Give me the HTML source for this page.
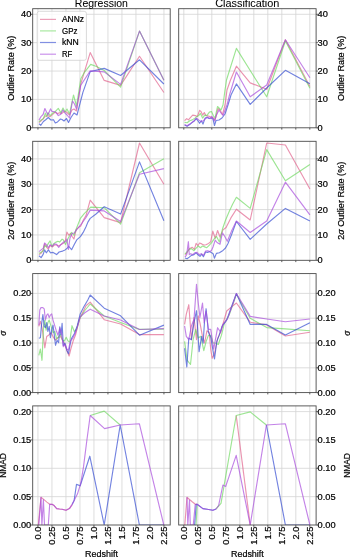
<!DOCTYPE html><html><head><meta charset="utf-8"><style>html,body{margin:0;padding:0;background:#fff;}svg{display:block;filter:blur(0.3px);}text{font-family:"Liberation Sans",sans-serif;fill:#000;stroke:#000;stroke-width:0.2px;}text.t{stroke-width:0.06px;}</style></head><body>
<svg width="350" height="557" viewBox="0 0 350 557">
<rect width="350" height="557" fill="#fff"/>
<path d="M37.95 8.70V127.80M51.95 8.70V127.80M65.95 8.70V127.80M79.95 8.70V127.80M93.95 8.70V127.80M107.95 8.70V127.80M121.95 8.70V127.80M135.95 8.70V127.80M149.95 8.70V127.80M163.95 8.70V127.80M32.70 99.42H170.20M32.70 71.05H170.20M32.70 42.67H170.20M32.70 14.30H170.20" stroke="#d4d4d4" stroke-width="0.8" fill="none"/>
<clipPath id="c00"><rect x="32.70" y="8.70" width="137.50" height="119.10"/></clipPath>
<g fill="none" stroke-width="1.15" stroke-linejoin="round" stroke-linecap="butt" clip-path="url(#c00)">
<polyline points="39.0,122.6 41.1,120.9 43.3,118.7 45.4,116.1 48.0,115.7 50.1,116.6 52.7,114.4 54.9,112.3 57.4,113.6 59.6,112.7 61.7,113.6 64.3,111.4 66.5,112.0 69.5,115.0 72.0,110.0 74.0,109.0 76.5,111.0 80.8,83.8 90.2,52.6 104.2,80.4 120.6,85.4 139.5,56.3 163.9,92.5" stroke="#e0608a" stroke-opacity="0.68"/>
<polyline points="39.0,121.7 41.1,120.0 43.3,118.7 45.4,113.1 46.7,116.6 48.0,112.7 50.1,115.7 52.7,113.1 54.9,111.9 58.3,108.4 60.9,112.7 63.0,108.0 65.0,112.0 67.0,109.0 69.5,114.0 73.5,95.0 76.5,106.0 80.8,78.8 84.4,72.3 90.7,64.4 96.5,66.5 104.2,70.5 120.6,87.1 139.5,31.1 163.9,80.2" stroke="#6fd860" stroke-opacity="0.68"/>
<polyline points="39.0,123.8 40.8,125.3 43.4,121.5 45.7,119.7 48.3,117.5 50.9,120.0 53.5,119.7 55.3,123.0 57.5,121.9 60.5,119.0 62.0,119.5 64.0,121.0 66.5,118.5 68.5,122.5 71.0,117.5 74.0,113.0 77.0,115.0 82.9,92.4 90.2,71.6 104.2,68.4 120.6,75.5 139.5,59.8 163.9,84.0" stroke="#3048d2" stroke-opacity="0.68"/>
<polyline points="39.0,120.1 41.2,116.3 43.1,114.5 44.9,108.5 47.9,114.9 50.5,108.9 52.0,111.5 53.8,111.5 56.0,112.3 58.3,115.6 60.5,114.5 63.0,110.0 65.0,113.0 67.0,115.0 69.5,118.0 72.5,101.0 74.5,104.0 76.5,109.0 80.8,85.2 90.2,70.9 104.2,71.9 120.6,84.4 139.5,31.1 163.9,80.2" stroke="#a648dc" stroke-opacity="0.68"/>
</g>
<path d="M37.95 127.80v1.8M51.95 127.80v1.8M65.95 127.80v1.8M79.95 127.80v1.8M93.95 127.80v1.8M107.95 127.80v1.8M121.95 127.80v1.8M135.95 127.80v1.8M149.95 127.80v1.8M163.95 127.80v1.8M32.70 127.80h-1.8M32.70 99.42h-1.8M32.70 71.05h-1.8M32.70 42.67h-1.8M32.70 14.30h-1.8" stroke="#4a4a4a" stroke-width="0.9" fill="none"/>
<rect x="32.70" y="8.70" width="137.50" height="119.10" fill="none" stroke="#4a4a4a" stroke-width="0.9"/>
<text x="31.30" y="130.76" font-size="8.38" text-anchor="end" textLength="5.15" lengthAdjust="spacingAndGlyphs">0</text>
<text x="31.30" y="102.38" font-size="8.38" text-anchor="end" textLength="10.31" lengthAdjust="spacingAndGlyphs">10</text>
<text x="31.30" y="74.01" font-size="8.38" text-anchor="end" textLength="10.31" lengthAdjust="spacingAndGlyphs">20</text>
<text x="31.30" y="45.63" font-size="8.38" text-anchor="end" textLength="10.31" lengthAdjust="spacingAndGlyphs">30</text>
<text x="31.30" y="17.26" font-size="8.38" text-anchor="end" textLength="10.31" lengthAdjust="spacingAndGlyphs">40</text>
<path d="M183.80 8.70V127.80M197.80 8.70V127.80M211.80 8.70V127.80M225.80 8.70V127.80M239.80 8.70V127.80M253.80 8.70V127.80M267.80 8.70V127.80M281.80 8.70V127.80M295.80 8.70V127.80M309.80 8.70V127.80M178.70 99.42H316.10M178.70 71.05H316.10M178.70 42.67H316.10M178.70 14.30H316.10" stroke="#d4d4d4" stroke-width="0.8" fill="none"/>
<clipPath id="c01"><rect x="178.70" y="8.70" width="137.40" height="119.10"/></clipPath>
<g fill="none" stroke-width="1.15" stroke-linejoin="round" stroke-linecap="butt" clip-path="url(#c01)">
<polyline points="184.6,120.7 186.7,118.6 188.4,119.9 190.6,117.3 192.7,115.1 195.3,115.6 197.4,116.5 199.6,110.4 201.0,111.5 202.6,115.1 204.3,112.6 206.0,115.6 208.5,116.0 211.0,117.0 213.5,118.0 215.0,120.0 218.0,108.5 220.0,110.0 222.5,114.5 225.0,105.0 227.0,90.0 230.5,80.0 236.4,66.2 250.2,82.9 266.7,89.3 285.4,39.8 309.9,86.6" stroke="#e0608a" stroke-opacity="0.68"/>
<polyline points="184.6,122.4 187.1,122.8 189.7,120.7 192.3,119.9 194.9,118.1 197.0,116.4 198.7,115.6 200.4,113.4 202.6,118.1 204.7,115.1 206.8,115.6 209.4,112.1 211.5,111.5 213.5,116.0 215.0,118.0 217.5,106.5 219.5,108.5 221.0,110.0 223.0,105.0 225.0,90.0 226.5,80.0 236.4,48.4 250.2,70.5 266.7,96.8 285.4,41.0 309.9,88.2" stroke="#6fd860" stroke-opacity="0.68"/>
<polyline points="184.6,125.0 187.1,126.3 189.7,124.6 192.3,122.4 194.4,120.7 196.1,118.6 197.9,120.7 199.6,123.3 201.3,120.7 203.0,124.1 205.1,118.1 207.0,117.5 209.0,118.5 211.0,118.0 213.0,119.0 214.5,125.5 216.0,120.5 219.0,120.0 222.0,118.0 225.0,114.0 228.0,105.0 231.0,95.0 236.4,83.9 250.2,104.4 266.7,88.0 285.4,70.3 309.9,83.8" stroke="#3048d2" stroke-opacity="0.68"/>
<polyline points="184.6,124.6 187.1,125.8 189.7,124.1 191.9,122.4 194.4,120.7 196.6,118.1 198.7,119.9 200.9,121.6 203.4,120.7 205.6,118.5 207.7,116.9 209.9,118.6 212.0,116.4 214.5,121.0 216.5,115.0 219.0,110.0 221.0,113.0 223.0,115.5 227.0,105.0 229.5,95.0 234.0,80.0 236.4,72.0 250.2,96.8 266.7,85.0 285.4,39.8 309.9,77.7" stroke="#a648dc" stroke-opacity="0.68"/>
</g>
<path d="M183.80 127.80v1.8M197.80 127.80v1.8M211.80 127.80v1.8M225.80 127.80v1.8M239.80 127.80v1.8M253.80 127.80v1.8M267.80 127.80v1.8M281.80 127.80v1.8M295.80 127.80v1.8M309.80 127.80v1.8M316.10 127.80h1.8M316.10 99.42h1.8M316.10 71.05h1.8M316.10 42.67h1.8M316.10 14.30h1.8" stroke="#4a4a4a" stroke-width="0.9" fill="none"/>
<rect x="178.70" y="8.70" width="137.40" height="119.10" fill="none" stroke="#4a4a4a" stroke-width="0.9"/>
<text x="317.50" y="130.76" font-size="8.38" text-anchor="start" textLength="5.15" lengthAdjust="spacingAndGlyphs">0</text>
<text x="317.50" y="102.38" font-size="8.38" text-anchor="start" textLength="10.31" lengthAdjust="spacingAndGlyphs">10</text>
<text x="317.50" y="74.01" font-size="8.38" text-anchor="start" textLength="10.31" lengthAdjust="spacingAndGlyphs">20</text>
<text x="317.50" y="45.63" font-size="8.38" text-anchor="start" textLength="10.31" lengthAdjust="spacingAndGlyphs">30</text>
<text x="317.50" y="17.26" font-size="8.38" text-anchor="start" textLength="10.31" lengthAdjust="spacingAndGlyphs">40</text>
<path d="M37.95 141.30V260.30M51.95 141.30V260.30M65.95 141.30V260.30M79.95 141.30V260.30M93.95 141.30V260.30M107.95 141.30V260.30M121.95 141.30V260.30M135.95 141.30V260.30M149.95 141.30V260.30M163.95 141.30V260.30M32.70 234.94H170.20M32.70 209.58H170.20M32.70 184.22H170.20M32.70 158.86H170.20" stroke="#d4d4d4" stroke-width="0.8" fill="none"/>
<clipPath id="c10"><rect x="32.70" y="141.30" width="137.50" height="119.00"/></clipPath>
<g fill="none" stroke-width="1.15" stroke-linejoin="round" stroke-linecap="butt" clip-path="url(#c10)">
<polyline points="39.0,254.6 41.1,253.3 43.3,249.9 44.6,243.9 46.7,247.3 48.4,249.0 50.1,245.6 52.3,247.0 54.4,245.0 56.6,245.0 58.7,246.0 61.0,244.6 63.6,243.3 65.5,240.0 66.9,232.0 68.8,235.2 70.6,233.4 72.0,236.2 73.9,239.0 76.2,229.6 78.6,227.3 80.9,225.9 83.2,220.3 86.0,215.6 90.2,200.2 104.2,217.6 120.6,222.6 139.5,143.0 163.9,184.3" stroke="#e0608a" stroke-opacity="0.68"/>
<polyline points="39.0,253.3 41.1,252.4 43.3,250.7 44.6,245.6 46.3,246.9 48.4,243.4 50.1,240.9 51.9,246.4 54.0,243.4 56.1,242.1 57.9,241.3 59.6,242.1 62.1,239.1 63.4,240.0 65.5,244.6 68.3,238.0 71.6,232.4 73.9,235.2 76.7,227.8 80.4,218.4 84.2,213.7 90.7,207.1 104.2,207.7 120.6,224.1 139.5,172.8 163.9,158.7" stroke="#6fd860" stroke-opacity="0.68"/>
<polyline points="39.0,255.8 41.1,257.6 43.3,254.1 44.6,249.9 46.3,252.8 48.4,249.9 50.6,252.8 53.1,252.4 56.6,254.6 59.1,252.0 62.6,251.1 65.1,249.9 66.9,248.5 68.7,246.4 71.6,249.7 74.0,245.0 76.7,239.9 80.4,236.6 83.2,232.4 86.0,226.8 87.9,222.1 90.2,218.4 95.7,214.3 104.2,206.7 120.6,214.1 139.5,161.9 163.9,220.8" stroke="#3048d2" stroke-opacity="0.68"/>
<polyline points="39.0,251.6 41.1,249.9 43.3,248.1 44.6,243.0 46.3,244.7 48.4,247.7 50.1,244.7 52.3,246.4 54.4,243.9 56.6,244.3 58.7,247.3 60.9,244.7 63.4,242.1 65.5,241.7 66.9,239.0 68.4,249.5 70.0,238.0 72.0,233.5 74.3,233.0 76.7,229.6 81.4,224.0 86.0,217.5 90.2,210.1 104.2,210.9 120.6,221.6 139.5,174.3 163.9,168.6" stroke="#a648dc" stroke-opacity="0.68"/>
</g>
<path d="M37.95 260.30v1.8M51.95 260.30v1.8M65.95 260.30v1.8M79.95 260.30v1.8M93.95 260.30v1.8M107.95 260.30v1.8M121.95 260.30v1.8M135.95 260.30v1.8M149.95 260.30v1.8M163.95 260.30v1.8M32.70 260.30h-1.8M32.70 234.94h-1.8M32.70 209.58h-1.8M32.70 184.22h-1.8M32.70 158.86h-1.8" stroke="#4a4a4a" stroke-width="0.9" fill="none"/>
<rect x="32.70" y="141.30" width="137.50" height="119.00" fill="none" stroke="#4a4a4a" stroke-width="0.9"/>
<text x="31.30" y="263.26" font-size="8.38" text-anchor="end" textLength="5.15" lengthAdjust="spacingAndGlyphs">0</text>
<text x="31.30" y="237.90" font-size="8.38" text-anchor="end" textLength="10.31" lengthAdjust="spacingAndGlyphs">10</text>
<text x="31.30" y="212.54" font-size="8.38" text-anchor="end" textLength="10.31" lengthAdjust="spacingAndGlyphs">20</text>
<text x="31.30" y="187.18" font-size="8.38" text-anchor="end" textLength="10.31" lengthAdjust="spacingAndGlyphs">30</text>
<text x="31.30" y="161.82" font-size="8.38" text-anchor="end" textLength="10.31" lengthAdjust="spacingAndGlyphs">40</text>
<path d="M183.80 141.30V260.30M197.80 141.30V260.30M211.80 141.30V260.30M225.80 141.30V260.30M239.80 141.30V260.30M253.80 141.30V260.30M267.80 141.30V260.30M281.80 141.30V260.30M295.80 141.30V260.30M309.80 141.30V260.30M178.70 234.94H316.10M178.70 209.58H316.10M178.70 184.22H316.10M178.70 158.86H316.10" stroke="#d4d4d4" stroke-width="0.8" fill="none"/>
<clipPath id="c11"><rect x="178.70" y="141.30" width="137.40" height="119.00"/></clipPath>
<g fill="none" stroke-width="1.15" stroke-linejoin="round" stroke-linecap="butt" clip-path="url(#c11)">
<polyline points="185.0,254.6 187.1,252.8 189.3,248.6 190.6,248.1 192.3,247.3 194.4,249.4 196.1,243.4 197.9,245.6 199.6,243.0 201.7,243.9 203.8,245.1 205.9,244.7 208.6,243.4 210.7,241.7 212.8,231.1 215.2,238.3 217.6,230.5 220.0,237.0 223.0,229.9 226.1,227.5 230.9,217.9 236.4,209.2 250.2,220.0 266.7,143.0 285.4,145.0 309.9,189.0" stroke="#e0608a" stroke-opacity="0.68"/>
<polyline points="185.0,254.1 187.1,251.6 189.3,249.4 191.4,248.6 194.0,250.7 196.6,247.7 198.3,246.0 200.4,247.7 202.6,246.0 204.7,246.9 206.8,247.7 209.4,245.1 211.6,242.6 214.6,238.3 216.5,236.5 219.4,241.9 222.4,229.3 225.5,220.3 229.1,211.8 232.7,204.0 236.4,197.3 250.2,208.4 266.7,149.6 285.4,180.7 309.9,164.4" stroke="#6fd860" stroke-opacity="0.68"/>
<polyline points="185.0,258.0 187.1,258.8 189.3,257.1 191.4,255.4 194.0,254.6 196.1,252.8 198.3,255.0 200.0,256.3 201.7,254.1 203.4,256.7 205.6,252.0 207.7,252.4 209.4,251.6 211.6,252.8 213.2,253.8 214.4,258.2 216.4,253.4 219.4,252.8 223.0,250.4 225.5,248.0 227.9,243.7 231.5,234.7 236.4,221.5 250.2,239.3 266.7,224.0 285.4,208.4 309.9,221.0" stroke="#3048d2" stroke-opacity="0.68"/>
<polyline points="185.0,257.1 186.7,254.6 188.4,241.7 189.3,254.6 190.6,253.7 192.7,254.6 194.9,252.8 197.0,252.4 199.1,254.6 201.3,253.7 203.4,255.4 205.6,251.1 207.7,250.7 209.9,251.6 211.6,250.3 213.0,247.0 215.2,240.1 217.0,242.5 220.0,244.3 222.4,232.9 224.8,236.5 227.3,241.3 231.5,231.1 236.4,221.0 250.2,232.5 266.7,221.0 285.4,182.2 309.9,214.9" stroke="#a648dc" stroke-opacity="0.68"/>
</g>
<path d="M183.80 260.30v1.8M197.80 260.30v1.8M211.80 260.30v1.8M225.80 260.30v1.8M239.80 260.30v1.8M253.80 260.30v1.8M267.80 260.30v1.8M281.80 260.30v1.8M295.80 260.30v1.8M309.80 260.30v1.8M316.10 260.30h1.8M316.10 234.94h1.8M316.10 209.58h1.8M316.10 184.22h1.8M316.10 158.86h1.8" stroke="#4a4a4a" stroke-width="0.9" fill="none"/>
<rect x="178.70" y="141.30" width="137.40" height="119.00" fill="none" stroke="#4a4a4a" stroke-width="0.9"/>
<text x="317.50" y="263.26" font-size="8.38" text-anchor="start" textLength="5.15" lengthAdjust="spacingAndGlyphs">0</text>
<text x="317.50" y="237.90" font-size="8.38" text-anchor="start" textLength="10.31" lengthAdjust="spacingAndGlyphs">10</text>
<text x="317.50" y="212.54" font-size="8.38" text-anchor="start" textLength="10.31" lengthAdjust="spacingAndGlyphs">20</text>
<text x="317.50" y="187.18" font-size="8.38" text-anchor="start" textLength="10.31" lengthAdjust="spacingAndGlyphs">30</text>
<text x="317.50" y="161.82" font-size="8.38" text-anchor="start" textLength="10.31" lengthAdjust="spacingAndGlyphs">40</text>
<path d="M37.95 273.60V392.60M51.95 273.60V392.60M65.95 273.60V392.60M79.95 273.60V392.60M93.95 273.60V392.60M107.95 273.60V392.60M121.95 273.60V392.60M135.95 273.60V392.60M149.95 273.60V392.60M163.95 273.60V392.60M32.70 367.80H170.20M32.70 343.00H170.20M32.70 318.20H170.20M32.70 293.40H170.20" stroke="#d4d4d4" stroke-width="0.8" fill="none"/>
<clipPath id="c20"><rect x="32.70" y="273.60" width="137.50" height="119.00"/></clipPath>
<g fill="none" stroke-width="1.15" stroke-linejoin="round" stroke-linecap="butt" clip-path="url(#c20)">
<polyline points="38.8,326.4 40.4,321.4 42.0,327.7 43.5,337.7 44.8,347.8 46.7,336.5 48.6,335.2 51.1,332.7 53.6,337.7 55.5,340.2 58.0,337.7 60.5,336.5 62.5,340.0 64.4,343.5 66.8,350.2 69.1,356.0 70.8,349.0 73.2,340.8 75.5,335.0 78.4,323.3 80.2,317.5 86.0,305.8 90.2,302.1 104.2,319.7 120.6,324.0 139.5,334.6 163.9,334.6" stroke="#e0608a" stroke-opacity="0.68"/>
<polyline points="38.8,355.3 40.4,349.0 42.0,360.3 43.5,327.7 44.8,320.1 46.1,330.2 47.9,322.6 49.2,320.1 51.1,326.4 53.0,332.7 54.8,331.4 56.7,339.0 58.6,336.5 60.5,334.0 62.5,340.0 64.4,341.0 66.2,337.3 68.0,341.0 69.7,342.0 72.0,325.7 74.3,331.5 76.7,329.2 79.6,318.7 84.8,310.5 90.2,304.0 104.2,316.0 120.6,322.5 139.5,329.4 163.9,329.1" stroke="#6fd860" stroke-opacity="0.68"/>
<polyline points="38.8,338.3 40.4,337.7 41.6,323.9 42.9,314.5 44.2,326.4 45.4,327.7 46.7,322.6 47.9,331.4 49.2,326.4 50.4,337.7 51.7,330.2 53.0,325.2 54.2,334.0 55.5,345.3 57.1,340.2 58.6,342.7 59.8,326.8 61.0,335.0 62.1,323.3 63.3,345.5 65.0,343.2 66.8,350.2 68.5,353.7 69.7,346.7 71.4,338.5 74.3,333.8 77.3,325.7 80.2,314.0 83.7,307.0 87.8,300.0 90.2,295.0 104.2,308.2 120.6,315.8 139.5,335.2 163.9,325.1" stroke="#3048d2" stroke-opacity="0.68"/>
<polyline points="38.8,325.2 39.8,310.1 41.0,307.6 42.9,307.6 44.2,308.8 45.4,320.0 46.7,315.1 47.9,313.8 49.2,317.6 50.4,315.1 51.7,313.8 53.0,320.1 54.2,323.9 56.1,330.2 58.0,335.2 59.8,328.0 61.5,333.5 63.3,346.7 65.0,344.3 66.8,349.0 68.5,350.2 70.3,340.8 72.6,338.5 75.5,332.7 78.4,323.3 80.2,316.9 84.8,312.8 90.2,309.2 104.2,316.0 120.6,320.0 139.5,329.5 163.9,328.6" stroke="#a648dc" stroke-opacity="0.68"/>
</g>
<path d="M37.95 392.60v1.8M51.95 392.60v1.8M65.95 392.60v1.8M79.95 392.60v1.8M93.95 392.60v1.8M107.95 392.60v1.8M121.95 392.60v1.8M135.95 392.60v1.8M149.95 392.60v1.8M163.95 392.60v1.8M32.70 392.60h-1.8M32.70 367.80h-1.8M32.70 343.00h-1.8M32.70 318.20h-1.8M32.70 293.40h-1.8" stroke="#4a4a4a" stroke-width="0.9" fill="none"/>
<rect x="32.70" y="273.60" width="137.50" height="119.00" fill="none" stroke="#4a4a4a" stroke-width="0.9"/>
<text x="31.30" y="395.56" font-size="8.38" text-anchor="end" textLength="18.04" lengthAdjust="spacingAndGlyphs">0.00</text>
<text x="31.30" y="370.76" font-size="8.38" text-anchor="end" textLength="18.04" lengthAdjust="spacingAndGlyphs">0.05</text>
<text x="31.30" y="345.96" font-size="8.38" text-anchor="end" textLength="18.04" lengthAdjust="spacingAndGlyphs">0.10</text>
<text x="31.30" y="321.16" font-size="8.38" text-anchor="end" textLength="18.04" lengthAdjust="spacingAndGlyphs">0.15</text>
<text x="31.30" y="296.36" font-size="8.38" text-anchor="end" textLength="18.04" lengthAdjust="spacingAndGlyphs">0.20</text>
<path d="M183.80 273.60V392.60M197.80 273.60V392.60M211.80 273.60V392.60M225.80 273.60V392.60M239.80 273.60V392.60M253.80 273.60V392.60M267.80 273.60V392.60M281.80 273.60V392.60M295.80 273.60V392.60M309.80 273.60V392.60M178.70 367.80H316.10M178.70 343.00H316.10M178.70 318.20H316.10M178.70 293.40H316.10" stroke="#d4d4d4" stroke-width="0.8" fill="none"/>
<clipPath id="c21"><rect x="178.70" y="273.60" width="137.40" height="119.00"/></clipPath>
<g fill="none" stroke-width="1.15" stroke-linejoin="round" stroke-linecap="butt" clip-path="url(#c21)">
<polyline points="184.6,324.4 186.3,314.1 188.8,304.7 191.4,339.7 194.0,317.5 196.5,339.7 198.2,315.8 200.0,323.2 202.3,335.4 204.6,343.0 206.9,330.8 209.2,332.3 210.7,349.1 212.2,358.3 214.5,353.7 217.6,338.5 220.6,332.3 226.7,311.0 231.3,307.1 236.4,303.0 250.2,322.2 266.7,324.9 285.4,336.0 309.9,332.3" stroke="#e0608a" stroke-opacity="0.68"/>
<polyline points="184.6,341.4 187.1,360.2 190.5,364.5 193.1,339.7 195.7,329.5 198.2,338.0 200.8,336.3 203.8,350.6 206.1,341.5 208.4,335.4 210.7,335.4 213.0,343.0 215.3,343.0 218.3,344.5 221.4,335.4 224.4,323.2 229.0,315.5 236.4,294.3 250.2,318.2 266.7,327.6 285.4,328.9 309.9,330.7" stroke="#6fd860" stroke-opacity="0.68"/>
<polyline points="184.6,348.3 186.8,367.0 188.8,338.0 191.4,339.7 194.0,322.7 196.5,310.7 199.1,351.7 201.6,336.3 203.1,343.1 204.5,322.0 206.1,308.7 208.4,332.3 210.7,336.9 212.2,346.0 214.5,359.0 216.8,341.5 219.1,335.4 222.1,326.2 226.7,320.1 231.3,307.1 236.4,293.5 250.2,324.4 266.7,324.4 285.4,335.0 309.9,322.8" stroke="#3048d2" stroke-opacity="0.68"/>
<polyline points="184.6,326.0 186.3,336.3 188.8,339.7 191.4,326.0 194.0,319.2 196.5,284.3 198.2,302.2 199.9,317.5 202.5,303.0 204.2,322.7 206.1,311.0 208.4,329.3 210.7,329.3 213.7,349.1 217.6,327.7 220.6,332.3 222.9,324.7 227.5,318.6 232.1,306.4 236.4,293.5 250.2,316.4 266.7,319.0 285.4,321.7 309.9,319.0" stroke="#a648dc" stroke-opacity="0.68"/>
</g>
<path d="M183.80 392.60v1.8M197.80 392.60v1.8M211.80 392.60v1.8M225.80 392.60v1.8M239.80 392.60v1.8M253.80 392.60v1.8M267.80 392.60v1.8M281.80 392.60v1.8M295.80 392.60v1.8M309.80 392.60v1.8M316.10 392.60h1.8M316.10 367.80h1.8M316.10 343.00h1.8M316.10 318.20h1.8M316.10 293.40h1.8" stroke="#4a4a4a" stroke-width="0.9" fill="none"/>
<rect x="178.70" y="273.60" width="137.40" height="119.00" fill="none" stroke="#4a4a4a" stroke-width="0.9"/>
<text x="317.50" y="395.56" font-size="8.38" text-anchor="start" textLength="18.04" lengthAdjust="spacingAndGlyphs">0.00</text>
<text x="317.50" y="370.76" font-size="8.38" text-anchor="start" textLength="18.04" lengthAdjust="spacingAndGlyphs">0.05</text>
<text x="317.50" y="345.96" font-size="8.38" text-anchor="start" textLength="18.04" lengthAdjust="spacingAndGlyphs">0.10</text>
<text x="317.50" y="321.16" font-size="8.38" text-anchor="start" textLength="18.04" lengthAdjust="spacingAndGlyphs">0.15</text>
<text x="317.50" y="296.36" font-size="8.38" text-anchor="start" textLength="18.04" lengthAdjust="spacingAndGlyphs">0.20</text>
<path d="M37.95 405.90V525.00M51.95 405.90V525.00M65.95 405.90V525.00M79.95 405.90V525.00M93.95 405.90V525.00M107.95 405.90V525.00M121.95 405.90V525.00M135.95 405.90V525.00M149.95 405.90V525.00M163.95 405.90V525.00M32.70 496.65H170.20M32.70 468.30H170.20M32.70 439.95H170.20M32.70 411.60H170.20" stroke="#d4d4d4" stroke-width="0.8" fill="none"/>
<clipPath id="c30"><rect x="32.70" y="405.90" width="137.50" height="119.10"/></clipPath>
<g fill="none" stroke-width="1.15" stroke-linejoin="round" stroke-linecap="butt" clip-path="url(#c30)">
<polyline points="38.3,525.0 41.0,497.3 43.4,499.1 46.9,502.1 49.7,504.3 52.0,504.3 54.1,505.6 56.7,508.6 59.5,509.0 62.0,509.3 66.0,510.3 69.4,508.6 72.1,504.6" stroke="#e0608a" stroke-opacity="0.68"/>
<polyline points="90.2,415.5 104.2,411.1 120.2,425.0" stroke="#6fd860" stroke-opacity="0.68"/>
<polyline points="72.1,504.6 74.1,500.6 76.5,484.4 80.2,485.8 89.8,456.2 104.2,525.0 120.2,425.0 139.4,525.0 163.8,525.0" stroke="#3048d2" stroke-opacity="0.68"/>
<polyline points="38.8,525.0 41.0,497.3 41.9,525.0 43.4,499.5 44.5,525.0 48.3,525.0 49.7,504.3 52.0,504.3 54.1,505.6 56.7,508.6 59.5,509.0 62.0,509.3 66.0,510.3 69.4,508.6 72.1,504.6 74.8,499.2 77.5,493.8 80.8,483.1 83.5,466.9 86.9,440.0 90.2,415.5 104.6,428.6 120.2,425.0 139.4,423.8 163.8,525.0" stroke="#a648dc" stroke-opacity="0.68"/>
</g>
<path d="M37.95 525.00v1.8M51.95 525.00v1.8M65.95 525.00v1.8M79.95 525.00v1.8M93.95 525.00v1.8M107.95 525.00v1.8M121.95 525.00v1.8M135.95 525.00v1.8M149.95 525.00v1.8M163.95 525.00v1.8M32.70 525.00h-1.8M32.70 496.65h-1.8M32.70 468.30h-1.8M32.70 439.95h-1.8M32.70 411.60h-1.8" stroke="#4a4a4a" stroke-width="0.9" fill="none"/>
<rect x="32.70" y="405.90" width="137.50" height="119.10" fill="none" stroke="#4a4a4a" stroke-width="0.9"/>
<text x="31.30" y="527.96" font-size="8.38" text-anchor="end" textLength="18.04" lengthAdjust="spacingAndGlyphs">0.00</text>
<text x="31.30" y="499.61" font-size="8.38" text-anchor="end" textLength="18.04" lengthAdjust="spacingAndGlyphs">0.05</text>
<text x="31.30" y="471.26" font-size="8.38" text-anchor="end" textLength="18.04" lengthAdjust="spacingAndGlyphs">0.10</text>
<text x="31.30" y="442.91" font-size="8.38" text-anchor="end" textLength="18.04" lengthAdjust="spacingAndGlyphs">0.15</text>
<text x="31.30" y="414.56" font-size="8.38" text-anchor="end" textLength="18.04" lengthAdjust="spacingAndGlyphs">0.20</text>
<text x="40.91" y="526.60" font-size="8.38" text-anchor="end" textLength="12.88" lengthAdjust="spacingAndGlyphs" transform="rotate(-90 40.91 526.60)">0.0</text>
<text x="54.91" y="526.60" font-size="8.38" text-anchor="end" textLength="18.04" lengthAdjust="spacingAndGlyphs" transform="rotate(-90 54.91 526.60)">0.25</text>
<text x="68.91" y="526.60" font-size="8.38" text-anchor="end" textLength="12.88" lengthAdjust="spacingAndGlyphs" transform="rotate(-90 68.91 526.60)">0.5</text>
<text x="82.91" y="526.60" font-size="8.38" text-anchor="end" textLength="18.04" lengthAdjust="spacingAndGlyphs" transform="rotate(-90 82.91 526.60)">0.75</text>
<text x="96.91" y="526.60" font-size="8.38" text-anchor="end" textLength="12.88" lengthAdjust="spacingAndGlyphs" transform="rotate(-90 96.91 526.60)">1.0</text>
<text x="110.91" y="526.60" font-size="8.38" text-anchor="end" textLength="18.04" lengthAdjust="spacingAndGlyphs" transform="rotate(-90 110.91 526.60)">1.25</text>
<text x="124.91" y="526.60" font-size="8.38" text-anchor="end" textLength="12.88" lengthAdjust="spacingAndGlyphs" transform="rotate(-90 124.91 526.60)">1.5</text>
<text x="138.91" y="526.60" font-size="8.38" text-anchor="end" textLength="18.04" lengthAdjust="spacingAndGlyphs" transform="rotate(-90 138.91 526.60)">1.75</text>
<text x="152.91" y="526.60" font-size="8.38" text-anchor="end" textLength="12.88" lengthAdjust="spacingAndGlyphs" transform="rotate(-90 152.91 526.60)">2.0</text>
<text x="166.91" y="526.60" font-size="8.38" text-anchor="end" textLength="18.04" lengthAdjust="spacingAndGlyphs" transform="rotate(-90 166.91 526.60)">2.25</text>
<path d="M183.80 405.90V525.00M197.80 405.90V525.00M211.80 405.90V525.00M225.80 405.90V525.00M239.80 405.90V525.00M253.80 405.90V525.00M267.80 405.90V525.00M281.80 405.90V525.00M295.80 405.90V525.00M309.80 405.90V525.00M178.70 496.65H316.10M178.70 468.30H316.10M178.70 439.95H316.10M178.70 411.60H316.10" stroke="#d4d4d4" stroke-width="0.8" fill="none"/>
<clipPath id="c31"><rect x="178.70" y="405.90" width="137.40" height="119.10"/></clipPath>
<g fill="none" stroke-width="1.15" stroke-linejoin="round" stroke-linecap="butt" clip-path="url(#c31)">
<polyline points="184.8,525.0 187.0,497.3 189.5,499.5 192.5,502.0 195.4,504.3 197.1,504.3" stroke="#e0608a" stroke-opacity="0.68"/>
<polyline points="236.2,415.5 250.2,525.0" stroke="#e0608a" stroke-opacity="0.68"/>
<polyline points="196.0,525.0 197.2,504.8" stroke="#6fd860" stroke-opacity="0.68"/>
<polyline points="216.0,509.0 218.6,506.0 221.0,503.4 236.2,415.5 250.2,411.9 266.4,425.0" stroke="#6fd860" stroke-opacity="0.68"/>
<polyline points="194.6,525.0 196.2,504.3 197.1,504.3 202.9,508.6 207.1,509.3 212.9,510.3 216.0,509.0" stroke="#3048d2" stroke-opacity="0.68"/>
<polyline points="266.4,425.0 285.4,525.0 309.9,525.0" stroke="#3048d2" stroke-opacity="0.68"/>
<polyline points="187.0,497.3 187.8,525.0 189.5,500.0 190.3,525.0 193.3,525.0 195.2,504.5 197.1,504.3 202.9,508.6 207.1,509.3 212.9,510.3 216.0,509.0 218.6,505.7 222.9,485.0 225.7,486.4 236.2,455.4 250.2,525.0 266.4,425.0 285.4,423.8 309.9,525.0" stroke="#a648dc" stroke-opacity="0.68"/>
</g>
<path d="M183.80 525.00v1.8M197.80 525.00v1.8M211.80 525.00v1.8M225.80 525.00v1.8M239.80 525.00v1.8M253.80 525.00v1.8M267.80 525.00v1.8M281.80 525.00v1.8M295.80 525.00v1.8M309.80 525.00v1.8M316.10 525.00h1.8M316.10 496.65h1.8M316.10 468.30h1.8M316.10 439.95h1.8M316.10 411.60h1.8" stroke="#4a4a4a" stroke-width="0.9" fill="none"/>
<rect x="178.70" y="405.90" width="137.40" height="119.10" fill="none" stroke="#4a4a4a" stroke-width="0.9"/>
<text x="317.50" y="527.96" font-size="8.38" text-anchor="start" textLength="18.04" lengthAdjust="spacingAndGlyphs">0.00</text>
<text x="317.50" y="499.61" font-size="8.38" text-anchor="start" textLength="18.04" lengthAdjust="spacingAndGlyphs">0.05</text>
<text x="317.50" y="471.26" font-size="8.38" text-anchor="start" textLength="18.04" lengthAdjust="spacingAndGlyphs">0.10</text>
<text x="317.50" y="442.91" font-size="8.38" text-anchor="start" textLength="18.04" lengthAdjust="spacingAndGlyphs">0.15</text>
<text x="317.50" y="414.56" font-size="8.38" text-anchor="start" textLength="18.04" lengthAdjust="spacingAndGlyphs">0.20</text>
<text x="186.76" y="526.60" font-size="8.38" text-anchor="end" textLength="12.88" lengthAdjust="spacingAndGlyphs" transform="rotate(-90 186.76 526.60)">0.0</text>
<text x="200.76" y="526.60" font-size="8.38" text-anchor="end" textLength="18.04" lengthAdjust="spacingAndGlyphs" transform="rotate(-90 200.76 526.60)">0.25</text>
<text x="214.76" y="526.60" font-size="8.38" text-anchor="end" textLength="12.88" lengthAdjust="spacingAndGlyphs" transform="rotate(-90 214.76 526.60)">0.5</text>
<text x="228.76" y="526.60" font-size="8.38" text-anchor="end" textLength="18.04" lengthAdjust="spacingAndGlyphs" transform="rotate(-90 228.76 526.60)">0.75</text>
<text x="242.76" y="526.60" font-size="8.38" text-anchor="end" textLength="12.88" lengthAdjust="spacingAndGlyphs" transform="rotate(-90 242.76 526.60)">1.0</text>
<text x="256.76" y="526.60" font-size="8.38" text-anchor="end" textLength="18.04" lengthAdjust="spacingAndGlyphs" transform="rotate(-90 256.76 526.60)">1.25</text>
<text x="270.76" y="526.60" font-size="8.38" text-anchor="end" textLength="12.88" lengthAdjust="spacingAndGlyphs" transform="rotate(-90 270.76 526.60)">1.5</text>
<text x="284.76" y="526.60" font-size="8.38" text-anchor="end" textLength="18.04" lengthAdjust="spacingAndGlyphs" transform="rotate(-90 284.76 526.60)">1.75</text>
<text x="298.76" y="526.60" font-size="8.38" text-anchor="end" textLength="12.88" lengthAdjust="spacingAndGlyphs" transform="rotate(-90 298.76 526.60)">2.0</text>
<text x="312.76" y="526.60" font-size="8.38" text-anchor="end" textLength="18.04" lengthAdjust="spacingAndGlyphs" transform="rotate(-90 312.76 526.60)">2.25</text>
<text x="101.40" y="6.90" font-size="10.04" text-anchor="middle" textLength="53.06" lengthAdjust="spacingAndGlyphs" class="t">Regression</text>
<text x="247.30" y="6.90" font-size="10.04" text-anchor="middle" textLength="64.18" lengthAdjust="spacingAndGlyphs" class="t">Classification</text>
<text x="101.45" y="556.60" font-size="8.38" text-anchor="middle" textLength="32.88" lengthAdjust="spacingAndGlyphs">Redshift</text>
<text x="247.40" y="556.60" font-size="8.38" text-anchor="middle" textLength="32.88" lengthAdjust="spacingAndGlyphs">Redshift</text>
<text x="14.30" y="68.25" font-size="8.38" text-anchor="middle" textLength="65.24" lengthAdjust="spacingAndGlyphs" transform="rotate(-90 14.30 68.25)">Outlier Rate (%)</text>
<text x="343.50" y="68.25" font-size="8.38" text-anchor="middle" textLength="65.24" lengthAdjust="spacingAndGlyphs" transform="rotate(-90 343.50 68.25)">Outlier Rate (%)</text>
<text x="14.40" y="200.80" font-size="8.38" text-anchor="middle" textLength="78.10" lengthAdjust="spacingAndGlyphs" transform="rotate(-90 14.40 200.80)">2<tspan font-style="italic">σ</tspan> Outlier Rate (%)</text>
<text x="343.60" y="200.80" font-size="8.38" text-anchor="middle" textLength="78.10" lengthAdjust="spacingAndGlyphs" transform="rotate(-90 343.60 200.80)">2<tspan font-style="italic">σ</tspan> Outlier Rate (%)</text>
<text x="6.20" y="333.10" font-size="8.38" text-anchor="middle" textLength="5.13" lengthAdjust="spacingAndGlyphs" transform="rotate(-90 6.20 333.10)"><tspan font-style="italic">σ</tspan></text>
<text x="349.80" y="333.10" font-size="8.38" text-anchor="middle" textLength="5.13" lengthAdjust="spacingAndGlyphs" transform="rotate(-90 349.80 333.10)"><tspan font-style="italic">σ</tspan></text>
<text x="5.80" y="465.45" font-size="8.38" text-anchor="middle" textLength="24.83" lengthAdjust="spacingAndGlyphs" transform="rotate(-90 5.80 465.45)">NMAD</text>
<text x="349.90" y="465.45" font-size="8.38" text-anchor="middle" textLength="24.83" lengthAdjust="spacingAndGlyphs" transform="rotate(-90 349.90 465.45)">NMAD</text>
<rect x="37.2" y="11.3" width="49.2" height="49.0" rx="2.2" ry="2.2" fill="#fff" fill-opacity="0.8" stroke="#cfcfcf" stroke-width="0.8"/>
<path d="M40 19.4H56" stroke="#e0608a" stroke-width="1.2" stroke-opacity="0.6"/>
<text x="62.00" y="22.20" font-size="8.38" text-anchor="start" textLength="21.91" lengthAdjust="spacingAndGlyphs">ANNz</text>
<path d="M40 30.9H56" stroke="#6fd860" stroke-width="1.2" stroke-opacity="0.6"/>
<text x="62.00" y="33.70" font-size="8.38" text-anchor="start" textLength="15.41" lengthAdjust="spacingAndGlyphs">GPz</text>
<path d="M40 42.5H56" stroke="#3048d2" stroke-width="1.2" stroke-opacity="0.6"/>
<text x="62.00" y="45.30" font-size="8.38" text-anchor="start" textLength="16.81" lengthAdjust="spacingAndGlyphs">kNN</text>
<path d="M40 54.2H56" stroke="#a648dc" stroke-width="1.2" stroke-opacity="0.6"/>
<text x="62.00" y="57.00" font-size="8.38" text-anchor="start" textLength="10.29" lengthAdjust="spacingAndGlyphs">RF</text>
</svg></body></html>
